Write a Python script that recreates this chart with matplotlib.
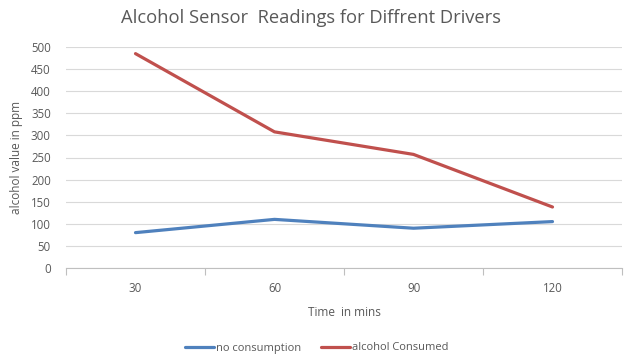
import matplotlib
matplotlib.use("Agg")
import matplotlib.pyplot as plt
import numpy as np

categories = ["30", "60", "90", "120"]
no_consumption = [80, 110, 90, 105]
alcohol_consumed = [485, 308, 257, 138]
yticks = [0, 50, 100, 150, 200, 250, 300, 350, 400, 450, 500]

plt.rcParams['font.family'] = ['Open Sans', 'DejaVu Sans']
txt = '#595959'

fig = plt.figure(figsize=(6.28, 3.55), dpi=100)
ax = fig.add_axes([66/628, 1-268/355, (622-66)/628, (268-47)/355])

x = np.arange(len(categories)) + 0.5
ax.plot(x, no_consumption, color='#4F81BD', lw=2.3, label='no consumption', solid_capstyle='round')
ax.plot(x, alcohol_consumed, color='#C0504D', lw=2.3, label='alcohol Consumed', solid_capstyle='round')

ax.set_xlim(0, len(categories))
ax.set_ylim(0, 500)
ax.set_yticks(yticks)
ax.yaxis.grid(True, color='#D9D9D9', lw=0.8)
ax.set_axisbelow(True)
ax.tick_params(axis='y', length=0, labelsize=8.3, colors=txt, pad=11)

ax.set_xticks(np.arange(len(categories) + 1))
ax.set_xticklabels([])
ax.tick_params(axis='x', which='major', length=5, color='#BFBFBF', direction='out')
ax.set_xticks(x, minor=True)
ax.set_xticklabels(categories, minor=True)
ax.tick_params(axis='x', which='minor', length=0, labelsize=8.3, colors=txt, pad=10)

for s in ['top', 'right', 'left']:
    ax.spines[s].set_visible(False)
ax.spines['bottom'].set_color('#BFBFBF')

ax.set_xlabel('Time  in mins', fontsize=8.5, color=txt, labelpad=8)
ax.set_ylabel('alcohol value in ppm', fontsize=8.5, color=txt, labelpad=6)
fig.text(311/628, 1-18/355, 'Alcohol Sensor  Readings for Diffrent Drivers', ha='center', va='center',
         fontsize=13.2, color=txt)

leg = fig.legend(loc='center', bbox_to_anchor=(317/628, 1-348/355), ncol=2, frameon=False,
                 fontsize=8, handlelength=2.6, handletextpad=0.2, columnspacing=1.8)
for t in leg.get_texts():
    t.set_color(txt)

fig.savefig('out.png', dpi=100)
